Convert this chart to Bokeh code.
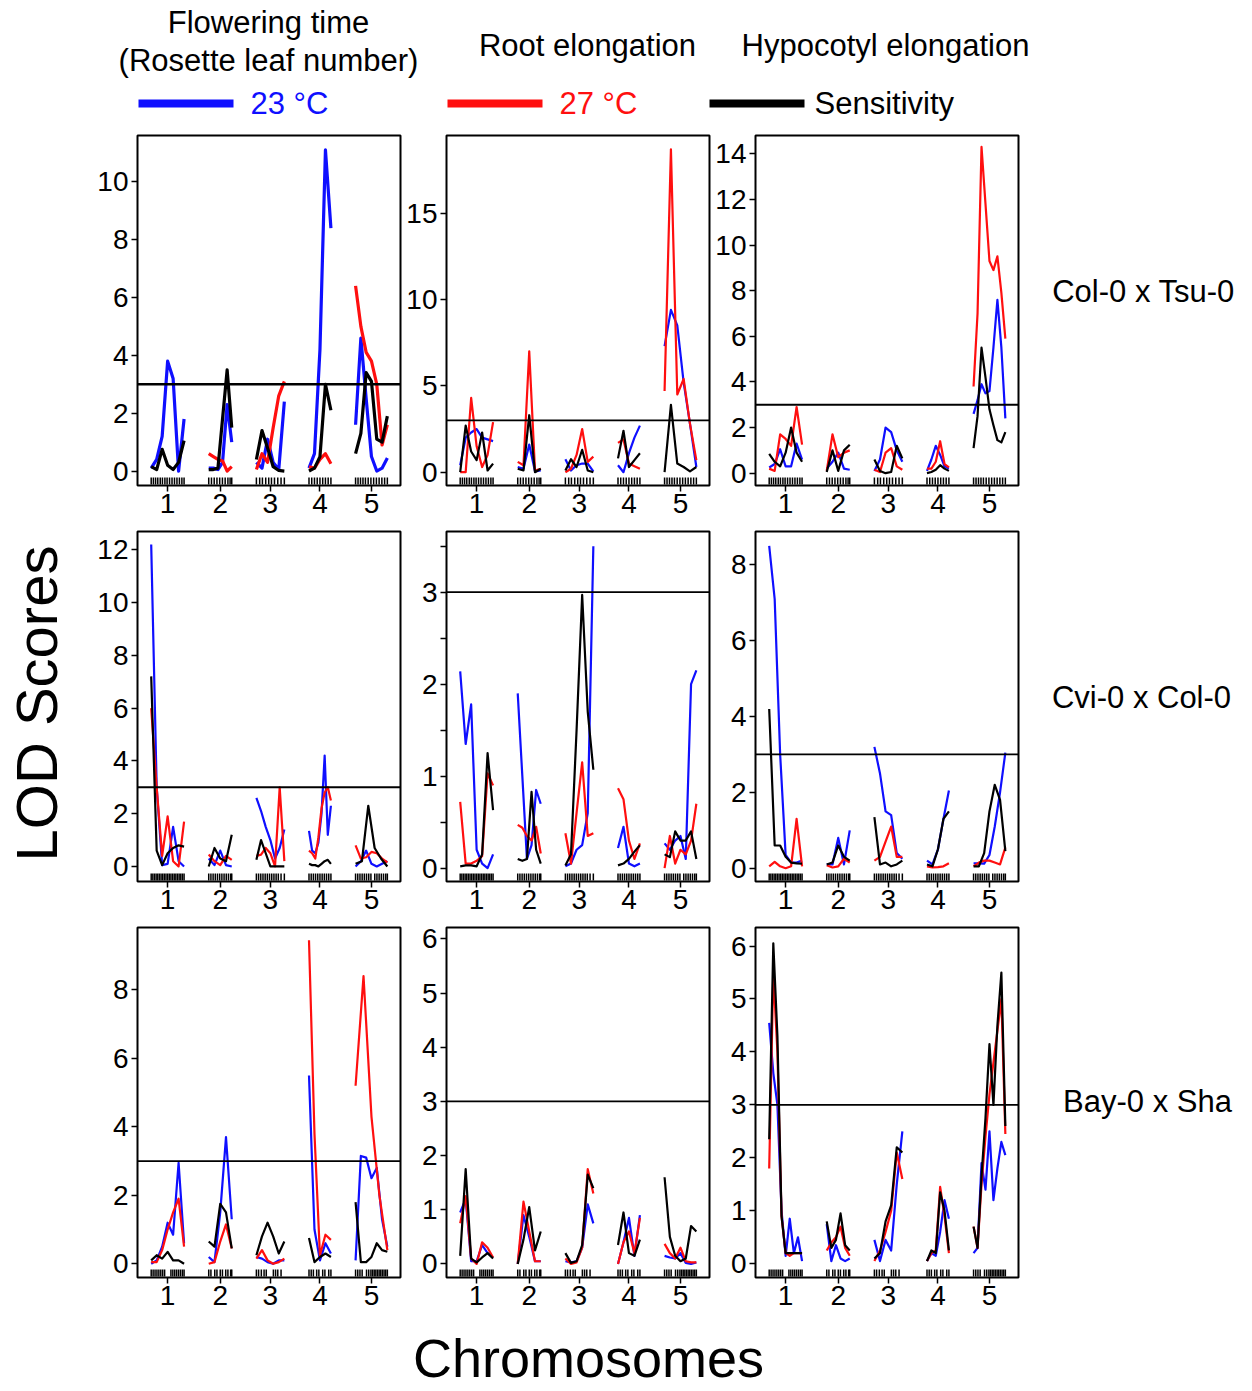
import numpy as np
from bokeh.plotting import figure
from bokeh.layouts import row, column
from bokeh.models import Range1d, FixedTicker, Span, Label
from bokeh.embed import file_html
from bokeh.resources import INLINE

FONT = "Liberation Sans"
BLUE = "#0f0fff"
RED = "#ff0f0f"
BLACK = "#000000"

TRAITS = ["Flowering time", "(Rosette leaf number)", "Root elongation", "Hypocotyl elongation"]
CROSSES = ["Col-0 x Tsu-0", "Cvi-0 x Col-0", "Bay-0 x Sha"]
SERIES_LABELS = ["23 °C", "27 °C", "Sensitivity"]
CHROMS = ["1", "2", "3", "4", "5"]
CHR_LEN = [120, 84, 102, 80, 116]   # cM
CHR_GAP = 90
X_PAD = [50, 48]

# ---- LOD profiles: one list per chromosome, evenly spaced along the chromosome ----
# Flowering time, Col-0 x Tsu-0
FT_CT_23 = [[0.1, 0.4, 1.2, 3.8, 3.2, 0.0, 1.8], [0.1, 0.1, 0.05, 0.3, 2.3, 1.0],
            [0.3, 0.1, 1.1, 0.3, 0.05, 2.4], [0.1, 0.6, 4.2, 11.1, 8.4],
            [1.6, 4.6, 2.5, 0.5, 0.0, 0.1, 0.45]]
FT_CT_27 = [[], [0.6, 0.5, 0.4, 0.35, 0.0, 0.15], [0.05, 0.6, 0.3, 1.5, 2.6, 3.1],
            [0.15, 0.1, 0.4, 0.6, 0.25], [6.4, 5.0, 4.1, 3.8, 3.0, 0.9, 1.6]]
FT_CT_SENS = [[0.15, 0.05, 0.75, 0.2, 0.05, 0.3, 1.05], [0.05, 0.05, 0.1, 1.8, 3.5, 1.5],
              [0.4, 1.4, 0.8, 0.15, 0.02, 0.0], [0.0, 0.1, 0.5, 3.0, 2.1],
              [0.6, 1.3, 3.4, 3.1, 1.1, 1.0, 1.9]]
# Root elongation, Col-0 x Tsu-0
RE_CT_23 = [[0.4, 2.0, 2.3, 2.5, 2.0, 1.9, 1.8], [0.3, 0.2, 1.6, 0.05, 0.1],
            [0.75, 0.1, 0.4, 0.5, 0.5, 0.05], [0.4, 0.0, 1.1, 2.0, 2.7],
            [7.3, 9.4, 8.5, 5.2, 2.8, 0.3]]
RE_CT_27 = [[0.0, 0.0, 4.3, 1.5, 0.3, 1.0, 2.9], [0.6, 0.4, 7.0, 0.1, 0.2],
            [0.0, 0.2, 1.0, 2.5, 0.6, 0.9], [1.7, 1.9, 0.5, 0.35, 0.2],
            [4.7, 18.7, 4.5, 5.4, 2.8, 0.7]]
RE_CT_SENS = [[0.0, 2.7, 1.2, 0.7, 2.3, 0.1, 0.5], [0.2, 0.1, 3.3, 0.0, 0.2],
              [0.1, 0.75, 0.3, 1.3, 0.1, 0.0], [0.8, 2.4, 0.3, 0.7, 1.1],
              [0.0, 3.9, 0.5, 0.3, 0.05, 0.3]]
# Hypocotyl elongation, Col-0 x Tsu-0
HE_CT_23 = [[0.25, 0.4, 1.05, 0.3, 0.3, 1.3, 0.6], [0.2, 0.5, 0.9, 0.2, 0.15],
            [0.1, 0.6, 2.0, 1.8, 1.0, 0.5], [0.1, 0.6, 1.2, 0.8, 0.3, 0.2],
            [2.6, 3.2, 3.9, 3.5, 3.6, 5.5, 7.6, 5.5, 2.4]]
HE_CT_27 = [[0.2, 0.1, 1.7, 1.5, 1.2, 2.9, 1.25], [0.1, 1.7, 0.7, 0.9, 1.0],
            [0.15, 0.05, 0.9, 1.1, 0.3, 0.15], [0.2, 0.2, 0.5, 1.4, 0.4, 0.25],
            [3.8, 7.0, 14.3, 11.8, 9.3, 8.9, 9.5, 7.9, 5.9]]
HE_CT_SENS = [[0.85, 0.5, 0.3, 0.9, 2.0, 0.9, 0.5], [0.05, 1.0, 0.1, 1.0, 1.25],
              [0.6, 0.1, 0.0, 0.05, 1.2, 0.65], [0.0, 0.05, 0.15, 0.35, 0.2, 0.1],
              [1.1, 2.5, 5.5, 4.2, 2.8, 2.1, 1.45, 1.35, 1.8]]
# Flowering time, Cvi-0 x Col-0
FT_CC_23 = [[12.2, 3.0, 0.05, 0.1, 1.5, 0.2, 0.0], [0.3, 0.05, 0.6, 0.05, 0.0],
            [2.6, 2.1, 1.5, 1.0, 0.3, 0.7, 1.4], [1.35, 0.6, 0.5, 0.9, 2.0, 4.2, 1.2, 2.3],
            [0.0, 0.2, 0.6, 0.1, 0.0, 0.1, 0.2]]
FT_CC_27 = [[6.0, 3.0, 0.4, 1.9, 0.2, 0.0, 1.7], [0.45, 0.2, 0.05, 0.4, 0.25],
            [0.4, 0.45, 0.7, 0.5, 0.0, 3.0, 0.2], [0.6, 0.5, 0.3, 1.1, 2.2, 2.8, 3.0, 2.5],
            [0.8, 0.3, 0.35, 0.55, 0.5, 0.3, 0.15]]
FT_CC_SENS = [[7.2, 0.6, 0.05, 0.5, 0.7, 0.8, 0.75], [0.0, 0.7, 0.3, 0.2, 1.2],
              [0.25, 1.0, 0.5, 0.0, 0.0, 0.0, 0.0], [0.1, 0.05, 0.05, 0.0, 0.1, 0.2, 0.25, 0.1],
              [0.1, 0.2, 2.3, 0.7, 0.3, 0.0]]
# Root elongation, Cvi-0 x Col-0
RE_CC_23 = [[2.14, 1.35, 1.78, 0.2, 0.05, 0.0, 0.15], [1.9, 1.0, 0.1, 0.25, 0.85, 0.7],
            [0.02, 0.05, 0.2, 0.25, 0.6, 3.5], [0.22, 0.45, 0.05, 0.02, 0.05],
            [0.27, 0.2, 0.3, 0.35, 0.1, 2.0, 2.15]]
RE_CC_27 = [[0.72, 0.05, 0.05, 0.08, 0.13, 1.03, 0.9], [0.47, 0.44, 0.35, 0.3, 0.45, 0.16],
            [0.38, 0.05, 0.6, 1.15, 0.35, 0.38], [0.87, 0.75, 0.3, 0.1, 0.27],
            [0.0, 0.35, 0.05, 0.2, 0.15, 0.3, 0.7]]
RE_CC_SENS = [[0.02, 0.03, 0.03, 0.02, 0.15, 1.25, 0.63], [0.1, 0.08, 0.1, 0.83, 0.2, 0.05],
              [0.03, 0.15, 1.5, 2.97, 1.7, 1.07], [0.03, 0.05, 0.1, 0.18, 0.25],
              [0.15, 0.12, 0.4, 0.3, 0.3, 0.4, 0.1]]
# Hypocotyl elongation, Cvi-0 x Col-0
HE_CC_23 = [[8.5, 7.1, 3.0, 0.35, 0.15, 0.15, 0.2], [0.1, 0.1, 0.8, 0.1, 1.0],
            [3.2, 2.5, 1.5, 1.4, 0.4, 0.25], [0.2, 0.1, 0.5, 1.3, 2.05],
            [0.13, 0.13, 0.12, 0.35, 1.1, 2.0, 3.05]]
HE_CC_27 = [[0.05, 0.17, 0.05, 0.0, 0.05, 1.3, 0.05], [0.08, 0.02, 0.05, 0.25, 0.15],
            [0.2, 0.3, 0.7, 1.1, 0.3, 0.3], [0.05, 0.02, 0.03, 0.05, 0.13],
            [0.05, 0.15, 0.2, 0.2, 0.15, 0.1, 0.55]]
HE_CC_SENS = [[4.2, 0.6, 0.6, 0.3, 0.15, 0.13, 0.12], [0.1, 0.15, 0.6, 0.3, 0.2],
              [1.35, 0.1, 0.15, 0.05, 0.1, 0.2], [0.1, 0.05, 0.5, 1.3, 1.5],
              [0.05, 0.05, 0.4, 1.5, 2.2, 1.8, 0.45]]
# Flowering time, Bay-0 x Sha
FT_BS_23 = [[0.0, 0.1, 0.5, 1.2, 0.85, 2.95, 0.6], [0.2, 0.05, 1.5, 3.7, 1.3],
            [0.2, 0.15, 0.05, 0.0, 0.1, 0.1], [5.5, 1.0, 0.1, 0.6, 0.3],
            [0.1, 3.15, 3.1, 2.5, 2.8, 1.3, 0.5]]
FT_BS_27 = [[0.05, 0.05, 0.4, 1.0, 1.5, 1.9, 0.5], [0.0, 0.05, 0.65, 1.15, 0.45],
            [0.15, 0.4, 0.1, 0.0, 0.05, 0.15], [9.45, 3.8, 0.25, 0.85, 0.7],
            [5.2, 8.4, 4.3, 2.0, 0.4]]
FT_BS_SENS = [[0.1, 0.25, 0.15, 0.35, 0.1, 0.1, 0.0], [0.65, 0.5, 1.75, 1.5, 0.45],
              [0.25, 0.8, 1.2, 0.8, 0.3, 0.65], [0.75, 0.05, 0.2, 0.3, 0.2],
              [1.8, 0.05, 0.05, 0.2, 0.6, 0.4, 0.35]]
# Root elongation, Bay-0 x Sha
RE_BS_23 = [[0.95, 1.2, 0.05, 0.05, 0.35, 0.2, 0.12], [0.0, 0.9, 0.5, 0.05, 0.05],
            [0.05, 0.03, 0.05, 0.3, 1.1, 0.75], [0.0, 0.4, 0.85, 0.15, 0.9],
            [0.15, 0.12, 0.1, 0.2, 0.02, 0.0, 0.03]]
RE_BS_27 = [[0.75, 1.25, 0.1, 0.0, 0.4, 0.3, 0.12], [0.0, 1.15, 0.6, 0.05, 0.05],
            [0.1, 0.0, 0.03, 0.3, 1.75, 1.3], [0.0, 0.4, 0.6, 0.2, 0.85],
            [0.37, 0.2, 0.1, 0.3, 0.05, 0.03, 0.03]]
RE_BS_SENS = [[0.15, 1.75, 0.1, 0.03, 0.12, 0.2, 0.1], [0.0, 0.45, 1.05, 0.25, 0.6],
              [0.2, 0.02, 0.05, 0.35, 1.65, 1.4], [0.35, 0.95, 0.2, 0.15, 0.45],
              [1.6, 0.5, 0.15, 0.05, 0.1, 0.7, 0.6]]
# Hypocotyl elongation, Bay-0 x Sha
HE_BS_23 = [[4.55, 3.6, 3.0, 1.0, 0.15, 0.85, 0.2, 0.5, 0.05], [0.75, 0.05, 0.35, 0.1, 0.05, 0.1],
            [0.45, 0.05, 0.45, 0.25, 1.5, 2.5], [0.05, 0.2, 0.15, 0.6, 1.2, 0.85],
            [0.2, 0.3, 1.9, 1.4, 2.5, 1.2, 1.8, 2.3, 2.05]]
HE_BS_27 = [[1.8, 5.5, 4.0, 0.9, 0.2, 0.15, 0.2, 0.2, 0.2], [0.25, 0.4, 0.5, 0.7, 0.3, 0.15],
            [0.05, 0.25, 0.6, 1.0, 2.1, 1.6], [0.05, 0.2, 0.25, 1.45, 0.9, 0.2],
            [0.7, 0.3, 1.5, 2.4, 3.2, 3.8, 4.4, 5.0, 2.45]]
HE_BS_SENS = [[2.35, 6.05, 4.3, 0.9, 0.2, 0.2, 0.2, 0.2, 0.2], [0.8, 0.3, 0.45, 0.95, 0.35, 0.25],
              [0.1, 0.2, 0.8, 1.1, 2.2, 2.1], [0.05, 0.25, 0.2, 1.35, 1.0, 0.25],
              [0.7, 0.3, 1.65, 2.75, 4.15, 3.0, 4.5, 5.5, 2.6]]

# ---- marker positions (cM) per cross, per chromosome ----
MARK_CT = [[0, 8, 16, 24, 33, 41, 50, 58, 67, 76, 85, 94, 103, 112, 120],
           [0, 10, 20, 30, 40, 50, 60, 70, 78, 84],
           [0, 12, 22, 34, 45, 55, 66, 78, 90, 102],
           [0, 10, 20, 30, 40, 50, 60, 70, 80],
           [0, 9, 18, 27, 36, 46, 56, 66, 76, 86, 96, 106, 116]]
MARK_CC = [[0, 6, 12, 18, 24, 30, 36, 42, 48, 54, 60, 66, 72, 78, 84, 90, 96, 102, 108, 114, 120],
           [0, 8, 16, 24, 32, 40, 48, 56, 64, 72, 80, 84],
           [0, 8, 16, 24, 32, 40, 48, 56, 64, 72, 80, 90, 102],
           [0, 8, 16, 24, 32, 40, 48, 56, 64, 72, 80],
           [0, 8, 16, 24, 32, 40, 48, 56, 70, 78, 86, 94, 102, 110, 116]]
MARK_BS = [[0, 7, 14, 21, 28, 35, 42, 49, 72, 79, 86, 93, 100, 107, 114, 120],
           [0, 8, 22, 30, 42, 50, 62, 70, 80, 84],
           [0, 8, 18, 28, 36, 62, 70, 78, 90],
           [0, 8, 16, 28, 36, 50, 58, 72, 80],
           [0, 8, 16, 24, 40, 48, 56, 62, 68, 74, 80, 86, 92, 98, 104, 110, 116]]

Y_LIMS = [[(-0.5, 11.6), (-0.77, 19.5), (-0.54, 14.8)],
          [(-0.57, 12.69), (-0.145, 3.66), (-0.35, 8.88)],
          [(-0.4, 9.82), (-0.25, 6.21), (-0.26, 6.35)]]
Y_TICKS = [[[0, 2, 4, 6, 8, 10], [0, 5, 10, 15], [0, 2, 4, 6, 8, 10, 12, 14]],
           [[0, 2, 4, 6, 8, 10, 12], [0, 0.5, 1, 1.5, 2, 2.5, 3, 3.5], [0, 2, 4, 6, 8]],
           [[0, 2, 4, 6, 8], [0, 1, 2, 3, 4, 5, 6], [0, 1, 2, 3, 4, 5, 6]]]
THRESHOLD = 3

PANEL_DATA = [[(FT_CT_23, FT_CT_27, FT_CT_SENS), (RE_CT_23, RE_CT_27, RE_CT_SENS), (HE_CT_23, HE_CT_27, HE_CT_SENS)],
              [(FT_CC_23, FT_CC_27, FT_CC_SENS), (RE_CC_23, RE_CC_27, RE_CC_SENS), (HE_CC_23, HE_CC_27, HE_CC_SENS)],
              [(FT_BS_23, FT_BS_27, FT_BS_SENS), (RE_BS_23, RE_BS_27, RE_BS_SENS), (HE_BS_23, HE_BS_27, HE_BS_SENS)]]
MARKERS = [MARK_CT, MARK_CC, MARK_BS]

# genome coordinates
OFFSETS = []
_pos = X_PAD[0]
for L in CHR_LEN:
    OFFSETS.append(_pos)
    _pos += L + CHR_GAP
X_MAX = _pos - CHR_GAP + X_PAD[1]
CENTERS = [int(o + L / 2) for o, L in zip(OFFSETS, CHR_LEN)]

FRAME_W, FRAME_H = 263, 350


def make_panel(r, c):
    series = PANEL_DATA[r][c]
    first = (r, c) == (0, 0)
    lw = 3.2 if first else 2.2
    p = figure(frame_width=FRAME_W, frame_height=FRAME_H,
               min_border_left=44, min_border_right=2, min_border_top=8, min_border_bottom=38,
               x_range=Range1d(0, X_MAX), y_range=Range1d(*Y_LIMS[r][c]),
               output_backend="svg", toolbar_location=None,
               background_fill_color="white", border_fill_color="white")
    p.extra_y_ranges = {"rug": Range1d(0, FRAME_H)}
    for vals, color in zip(series, [BLUE, RED, BLACK]):
        xs, ys = [], []
        for ci, v in enumerate(vals):
            if not v:
                continue
            xs.append(list(OFFSETS[ci] + np.linspace(0, CHR_LEN[ci], len(v))))
            ys.append(list(v))
        p.multi_line(xs, ys, line_color=color, line_width=lw, line_join="round")
    mx = [OFFSETS[ci] + m for ci, ms in enumerate(MARKERS[r]) for m in ms]
    p.segment(x0=mx, y0=[1] * len(mx), x1=mx, y1=[8] * len(mx), y_range_name="rug",
              line_color=BLACK, line_width=1.5)
    p.add_layout(Span(location=THRESHOLD, dimension="width", line_color=BLACK,
                      line_width=2.5 if first else 1.8))
    p.xgrid.visible = False
    p.ygrid.visible = False
    p.outline_line_color = BLACK
    p.outline_line_width = 2
    p.outline_line_alpha = 1
    p.xaxis.ticker = FixedTicker(ticks=CENTERS)
    p.xaxis.major_label_overrides = {k: v for k, v in zip(CENTERS, CHROMS)}
    ticks = Y_TICKS[r][c]
    p.yaxis.ticker = FixedTicker(ticks=ticks)
    p.yaxis.major_label_overrides = {t: (str(int(t)) if float(t).is_integer() else "") for t in ticks}
    for ax in (p.xaxis[0], p.yaxis[0]):
        ax.axis_line_color = None
        ax.major_tick_line_color = BLACK
        ax.major_tick_line_width = 1.5
        ax.major_tick_out = 6
        ax.major_tick_in = 0
        ax.minor_tick_line_color = None
        ax.major_label_text_font = FONT
        ax.major_label_text_font_size = "28px"
        ax.major_label_text_color = BLACK
        ax.major_label_standoff = 3
    p.xaxis.major_label_standoff = 2
    return p


def blank(w, h):
    p = figure(width=w, height=h, x_range=Range1d(0, w), y_range=Range1d(0, h),
               min_border=0, x_axis_location=None, y_axis_location=None,
               output_backend="svg", toolbar_location=None, outline_line_color=None,
               background_fill_color="white", border_fill_color="white")
    p.xgrid.visible = False
    p.ygrid.visible = False
    return p


def lab(p, x, y, text, size, color=BLACK, angle=0, align="center"):
    p.add_layout(Label(x=x, y=y, text=text, angle=angle, text_align=align,
                       text_baseline="middle", text_font=FONT, text_font_size=size,
                       text_color=color))


LEFT_W = 93
HEADER_H = 127
GRID_ROW_H = 8 + FRAME_H + 38
RIGHT_W = 226
FOOTER_H = 74
PAGE_W = LEFT_W + 3 * (44 + FRAME_W + 2) + RIGHT_W

# header: trait titles and the colour key
header = blank(PAGE_W, HEADER_H)
lab(header, 268, 105, TRAITS[0], "31px")
lab(header, 268, 67, TRAITS[1], "31px")
lab(header, 587, 82, TRAITS[2], "31px")
lab(header, 885, 82, TRAITS[3], "31px")
KEY_X0 = [138, 447, 709]
KEY_LEN = 95
KEY_Y = 24
header.segment(x0=KEY_X0, y0=[KEY_Y] * 3, x1=[x + KEY_LEN for x in KEY_X0], y1=[KEY_Y] * 3,
               line_color=[BLUE, RED, BLACK], line_width=8, line_cap="butt")
for label, color, x0 in zip(SERIES_LABELS, [BLUE, RED, BLACK], KEY_X0):
    lab(header, x0 + KEY_LEN + (17 if color != BLACK else 10), KEY_Y, label, "31px",
        color=color, align="left")

left = blank(LEFT_W, 3 * GRID_ROW_H)
lab(left, 36, 612, "LOD Scores", "58px", angle=np.pi / 2)

right = blank(RIGHT_W, 3 * GRID_ROW_H)
for txt, (x, y) in zip(CROSSES, [(123, 1024), (121, 618), (127, 214)]):
    lab(right, x, y, txt, "31px")

grid = column(*[row(*[make_panel(r, c) for c in range(3)], spacing=0) for r in range(3)], spacing=0)
middle = row(left, grid, right, spacing=0)

footer = blank(PAGE_W, FOOTER_H)
lab(footer, 588, 32, "Chromosomes", "54px")

layout = column(header, middle, footer, spacing=0)

open("out.html", "w").write(file_html(layout, INLINE))
